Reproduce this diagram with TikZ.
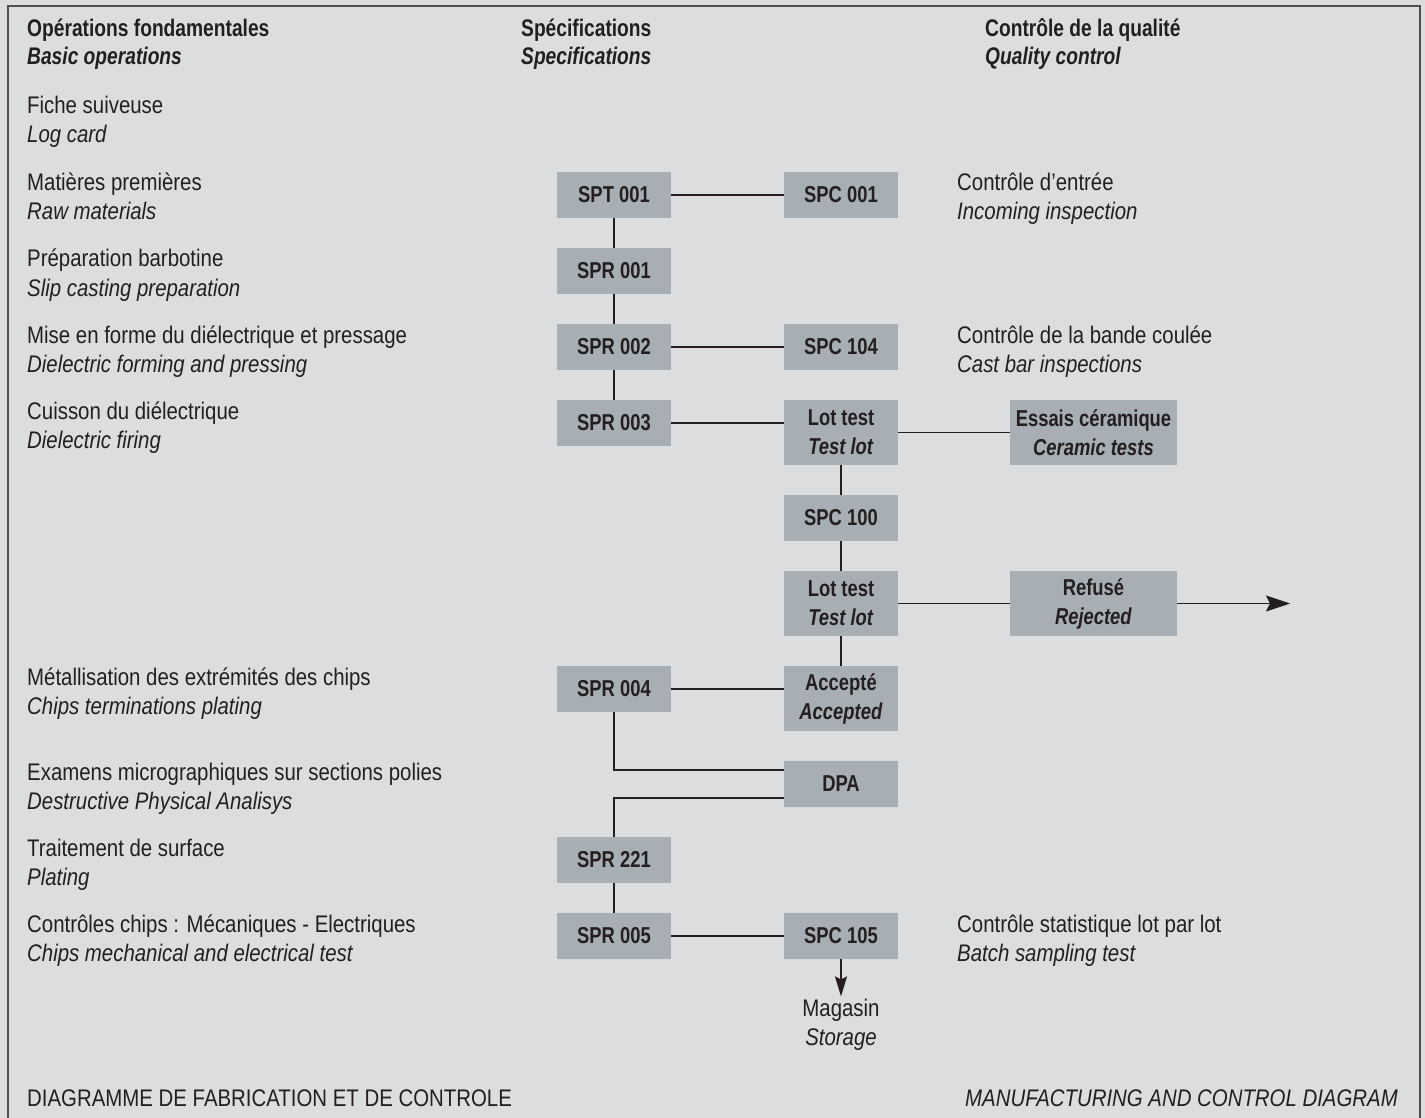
\documentclass[tikz,border=0pt]{standalone}
\usepackage{fontspec}
\setmainfont{Liberation Sans}[FakeStretch=0.85]
\newfontfamily\boxfont{Liberation Sans}[FakeStretch=0.8]
\usepackage{tikz}
\usepackage{xcolor}
\usetikzlibrary{arrows.meta}

\definecolor{bgGray}{RGB}{220,221,223}
\definecolor{boxGray}{RGB}{168,175,180}
\definecolor{frameGray}{RGB}{80,80,82}
\definecolor{inkBlack}{RGB}{35,31,32}

\begin{document}
\begin{tikzpicture}[
        x=1pt, y=-1pt,
        every node/.style={text=inkBlack, inner sep=0pt},
        specBox/.style={fill=boxGray, minimum width=114pt, minimum height=46pt, align=center,
            font=\boxfont\bfseries\fontsize{23}{29}\selectfont},
        tallBox/.style={specBox, minimum height=65pt},
        wideBox/.style={tallBox, minimum width=167pt},
        opText/.style={anchor=base west, align=left, font=\fontsize{24}{29}\selectfont},
        headText/.style={anchor=base west, align=left, font=\boxfont\bfseries\fontsize{24}{28}\selectfont},
        link/.style={draw=inkBlack, line width=1.1pt},
    ]
        \useasboundingbox (0,0) rectangle (1425,1118);
        \fill[bgGray] (0,0) rectangle (1425,1118);
        \draw[frameGray, line width=1.6pt] (8,1118) -- (8,6) -- (1420,6) -- (1420,1118);

        % column heads (base = last line)
        \node[headText] (headOp) at (27,65) {Opérations fondamentales\\\textit{Basic operations}};
        \node[headText] (headSpec) at (521,65) {Spécifications\\\textit{Specifications}};
        \node[headText] (headQual) at (985,65) {Contrôle de la qualité\\\textit{Quality control}};

        % operations
        \node[opText] (tLog) at (27,143) {Fiche suiveuse\\\textit{Log card}};
        \node[opText] (tRaw) at (27,220) {Matières premières\\\textit{Raw materials}};
        \node[opText] (tSlip) at (27,296) {Préparation barbotine\\\textit{Slip casting preparation}};
        \node[opText] (tForm) at (27,372) {Mise en forme du diélectrique et pressage\\\textit{Dielectric forming and pressing}};
        \node[opText] (tFire) at (27,448) {Cuisson du diélectrique\\\textit{Dielectric firing}};
        \node[opText] (tTerm) at (27,714) {Métallisation des extrémités des chips\\\textit{Chips terminations plating}};
        \node[opText] (tMicro) at (27,809) {Examens micrographiques sur sections polies\\\textit{Destructive Physical Analisys}};
        \node[opText] (tPlate) at (27,885) {Traitement de surface\\\textit{Plating}};
        \node[opText] (tChips) at (27,961) {Contrôles chips : Mécaniques - Electriques\\\textit{Chips mechanical and electrical test}};

        % quality remarks
        \node[opText] (tIn) at (957,220) {Contrôle d’entrée\\\textit{Incoming inspection}};
        \node[opText] (tCast) at (957,372) {Contrôle de la bande coulée\\\textit{Cast bar inspections}};
        \node[opText] (tBatch) at (957,961) {Contrôle statistique lot par lot\\\textit{Batch sampling test}};

        % boxes
        \node[specBox] (spt001) at (614,195) {SPT 001};
        \node[specBox] (spc001) at (841,195) {SPC 001};
        \node[specBox] (spr001) at (614,271) {SPR 001};
        \node[specBox] (spr002) at (614,347) {SPR 002};
        \node[specBox] (spc104) at (841,347) {SPC 104};
        \node[specBox] (spr003) at (614,423) {SPR 003};
        \node[tallBox] (lotA) at (841,432.5) {Lot test\\\textit{Test lot}};
        \node[wideBox] (ceram) at (1093.5,432.5) {Essais céramique\\\textit{Ceramic tests}};
        \node[specBox] (spc100) at (841,518) {SPC 100};
        \node[tallBox] (lotB) at (841,603.5) {Lot test\\\textit{Test lot}};
        \node[wideBox] (reject) at (1093.5,603.5) {Refusé\\\textit{Rejected}};
        \node[specBox] (spr004) at (614,689) {SPR 004};
        \node[tallBox] (accept) at (841,698.5) {Accepté\\\textit{Accepted}};
        \node[specBox] (dpa) at (841,784) {DPA};
        \node[specBox] (spr221) at (614,860) {SPR 221};
        \node[specBox] (spr005) at (614,936) {SPR 005};
        \node[specBox] (spc105) at (841,936) {SPC 105};
        \node[align=center, anchor=base, inner sep=2pt, font=\fontsize{24}{29}\selectfont] (store) at (841,1045) {Magasin\\\textit{Storage}};
        \coordinate (rejEnd) at (1290,603.5);

        % links
        \draw[link] (spt001) -- (spc001);
        \draw[link] (spt001) -- (spr001);
        \draw[link] (spr001) -- (spr002);
        \draw[link] (spr002) -- (spc104);
        \draw[link] (spr002) -- (spr003);
        \draw[link] (spr003.east) -- (spr003.east -| lotA.west);
        \draw[link] (lotA) -- (ceram);
        \draw[link] (lotA) -- (spc100);
        \draw[link] (spc100) -- (lotB);
        \draw[link] (lotB) -- (reject);
        \draw[link, -{Stealth[length=24pt, width=16pt, inset=4pt]}] (reject) -- (rejEnd);
        \draw[link] (lotB) -- (accept);
        \draw[link] (spr004.east) -- (spr004.east -| accept.west);
        \draw[link] (spr004) |- ([yshift=14pt]dpa.west);
        \draw[link] ([yshift=-14pt]dpa.west) -| (spr221);
        \draw[link] (spr221) -- (spr005);
        \draw[link] (spr005) -- (spc105);
        \draw[link, -{Stealth[length=20pt, width=12pt, inset=3pt]}] (spc105) -- (store);

        % title line
        \node[opText] (titleFr) at (27,1106) {DIAGRAMME DE FABRICATION ET DE CONTROLE};
        \node[opText, anchor=base east] (titleEn) at (1398,1106) {\textit{MANUFACTURING AND CONTROL DIAGRAM}};
    \end{tikzpicture}
\end{document}
